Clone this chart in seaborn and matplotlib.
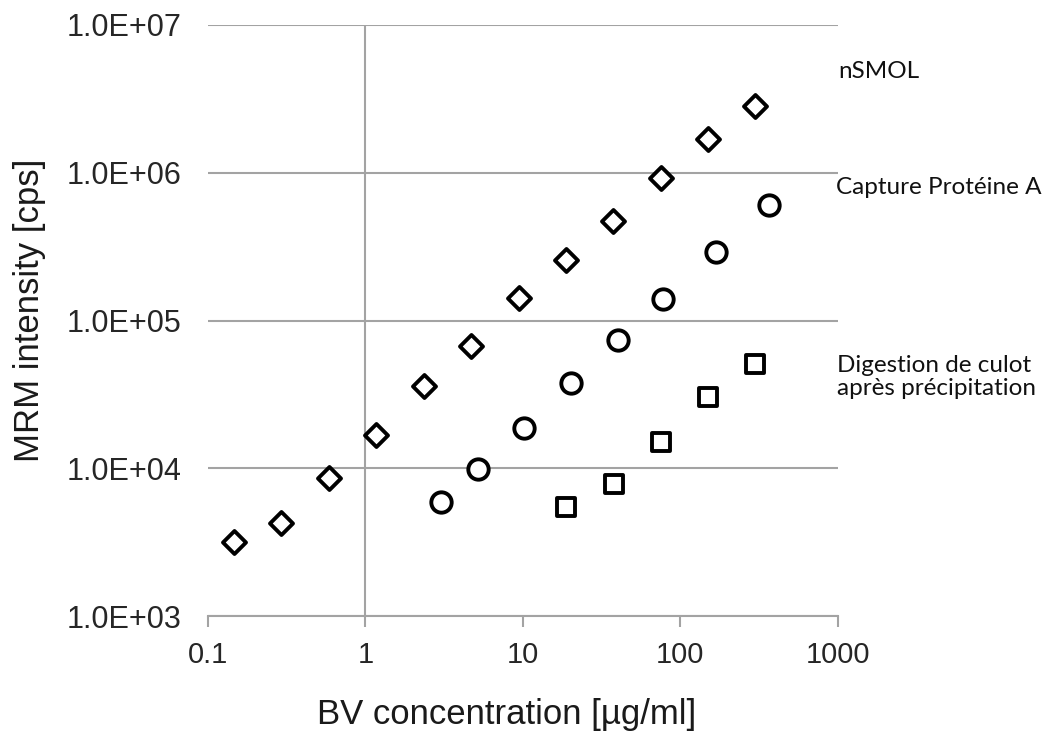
import matplotlib
import matplotlib.pyplot as plt
from matplotlib.ticker import FuncFormatter, FixedLocator, NullLocator
import seaborn as sns
import pandas as pd

matplotlib.use('Agg')

# values
nsmol_conc = [0.146, 0.29, 0.59, 1.17, 2.34, 4.69, 9.4, 18.75, 37.5, 75, 150, 300]
nsmol_int = [3160, 4260, 8600, 16800, 36000, 67000, 142000, 257000, 471000, 920000, 1690000, 2830000]

protA_conc = [3.0, 5.2, 10.2, 20.2, 40, 78, 168, 365]
protA_int = [5900, 9950, 18700, 37800, 74000, 140000, 291000, 605000]

pellet_conc = [18.75, 37.8, 75, 150, 300]
pellet_int = [5470, 7820, 15100, 30400, 50800]

series_names = ['nSMOL', 'Capture Protéine A', 'Digestion de culot\naprès précipitation']
x_ticks = [0.1, 1, 10, 100, 1000]
y_ticks = [1e3, 1e4, 1e5, 1e6, 1e7]

grey = '#a3a3a3'

sns.set_style('white')
plt.rcParams['font.family'] = ['Liberation Sans', 'DejaVu Sans']

fig = plt.figure(figsize=(10.53, 7.33), dpi=100)
ax = fig.add_axes([0.1975, 0.1596, 0.598, 0.8063])

ax.set_xscale('log')
ax.set_yscale('log')

df_nsmol = pd.DataFrame({'conc': nsmol_conc, 'intensity': nsmol_int})
df_prota = pd.DataFrame({'conc': protA_conc, 'intensity': protA_int})
df_pellet = pd.DataFrame({'conc': pellet_conc, 'intensity': pellet_int})

common = dict(x='conc', y='intensity', ax=ax, facecolor='white',
              edgecolor='black', linewidth=2.8, zorder=5, legend=False)
sns.scatterplot(data=df_nsmol, marker='D', s=137, **common)
sns.scatterplot(data=df_prota, marker='o', s=215, **common)
sns.scatterplot(data=df_pellet, marker='s', s=175, **common)

ax.set_xlim(0.1, 1000)
ax.set_ylim(1e3, 1e7)

# Excel style axes: horizontal grid, vertical axis line at x=1
ax.yaxis.grid(True, color=grey, linewidth=1.5)
ax.xaxis.grid(False)
ax.axvline(1, color=grey, linewidth=1.5, zorder=1)
for side in ['top', 'right', 'left']:
    ax.spines[side].set_visible(False)
ax.spines['bottom'].set_color(grey)
ax.spines['bottom'].set_linewidth(1.5)

ax.xaxis.set_major_locator(FixedLocator(x_ticks))
ax.xaxis.set_minor_locator(NullLocator())
ax.yaxis.set_major_locator(FixedLocator(y_ticks))
ax.yaxis.set_minor_locator(NullLocator())
ax.xaxis.set_major_formatter(FuncFormatter(lambda v, p: f'{v:g}'))
ax.yaxis.set_major_formatter(FuncFormatter(lambda v, p: f'{v:.1E}'))

ax.tick_params(axis='x', which='major', bottom=True, direction='out', length=8,
               width=1.5, color=grey, labelsize=21, pad=10, labelcolor='#262626')
ax.tick_params(axis='y', which='major', left=False, length=0, labelsize=22,
               pad=19, labelcolor='#262626')

ax.set_xlabel('BV concentration [µg/ml]', fontsize=25, color='#1a1a1a')
ax.set_ylabel('MRM intensity [cps]', fontsize=25, color='#1a1a1a')
ax.xaxis.set_label_coords(0.4746, -0.139)
ax.yaxis.set_label_coords(-0.258, 0.518)

# series labels on the right side
label_pos = [(838, 72), (836, 188), (837, 377)]
for name, (px, py) in zip(series_names, label_pos):
    fig.text(px / 1053, 1 - py / 733, name, ha='left', va='center',
             fontsize=17.5, family=['Lato', 'DejaVu Sans'], color='#111111',
             linespacing=1.1)

fig.savefig('out.png', dpi=100)
plt.close(fig)
